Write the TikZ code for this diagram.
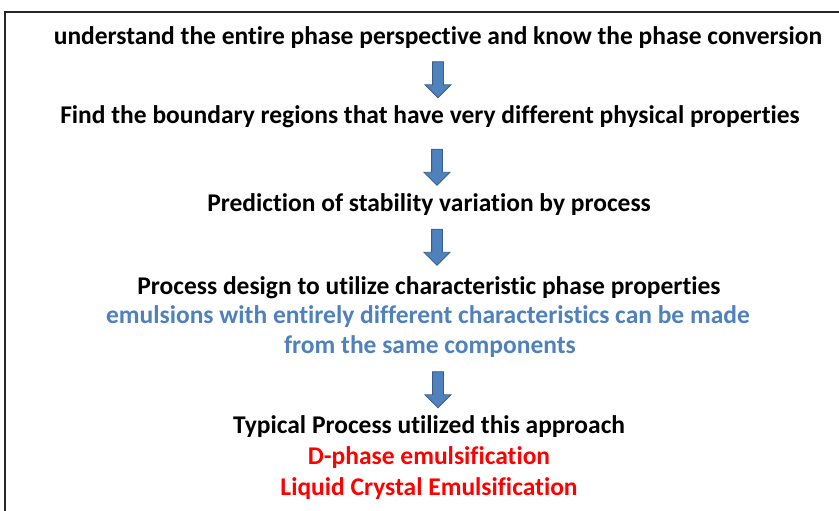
\documentclass[tikz,border=0pt]{standalone}
\usepackage{fontspec}
\setmainfont{Carlito}[Ligatures=NoCommon]
\usetikzlibrary{shapes.arrows}
\definecolor{noteblue}{RGB}{79,129,189}
\definecolor{arrowedge}{RGB}{56,93,138}

\begin{document}
\begin{tikzpicture}[x=1pt,y=1pt,
    every node/.style={font=\bfseries\fontsize{25.5}{30}\selectfont, inner sep=0pt, anchor=base},
    note/.style={text=noteblue},
    proc/.style={text=red},
    blockarrow/.style={single arrow, draw=arrowedge, fill=noteblue, line width=0.8pt,
      inner sep=5pt, minimum height=36pt, single arrow head extend=7.5pt,
      shape border rotate=270, anchor=center}]
  \useasboundingbox (0,0) rectangle (839,-511);
  % frame, cut off at the right and at the bottom
  \draw[line width=1.5pt, black!85] (841,-12) -- (5,-12) -- (5,-513);

  % steps
  \node (perspective) at (438,-45) {understand the entire phase perspective and know the phase conversion};
  \node (boundary) at (430,-124) {Find the boundary regions that have very different physical properties};
  \node (stability) at (429,-211) {Prediction of stability variation by process};
  \node (design) at (429,-294) {Process design to utilize characteristic phase properties};
  \node[note] (emulsions) at (428,-323) {emulsions with entirely different characteristics can be made};
  \node[note] (components) at (430,-353) {from the same components};
  \node (typical) at (429,-433) {Typical Process utilized this approach};
  \node[proc] (dphase) at (429,-464) {D-phase emulsification};
  \node[proc] (liquid) at (429,-495) {Liquid Crystal Emulsification};

  % block arrows between the steps
  \node[blockarrow] (arrA) at (438,-77) {};
  \node[blockarrow] (arrB) at (437,-164.5) {};
  \node[blockarrow] (arrC) at (437,-244.5) {};
  \node[blockarrow] (arrD) at (438,-387) {};
\end{tikzpicture}
\end{document}
